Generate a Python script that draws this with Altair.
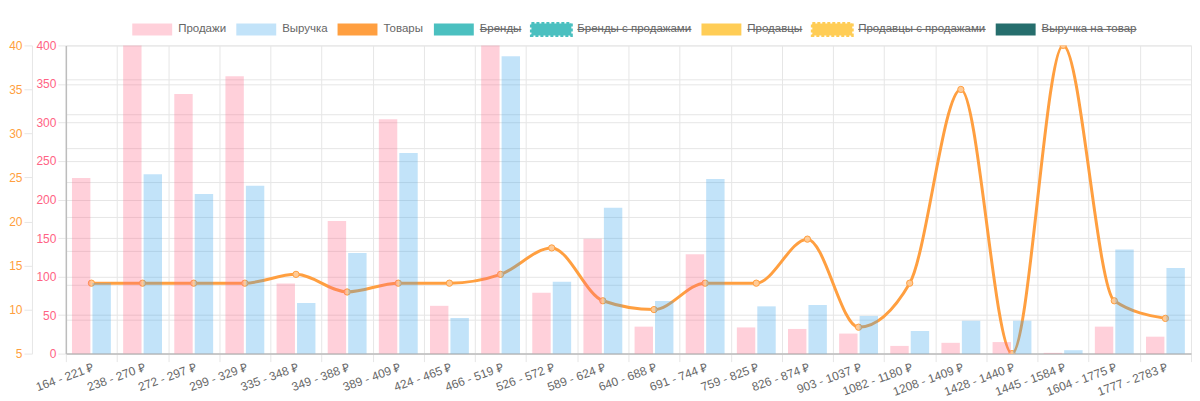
import altair as alt
import pandas as pd

categories = ["164 - 221 ₽", "238 - 270 ₽", "272 - 297 ₽", "299 - 329 ₽", "335 - 348 ₽",
              "349 - 388 ₽", "389 - 409 ₽", "424 - 465 ₽", "466 - 519 ₽", "526 - 572 ₽",
              "589 - 624 ₽", "640 - 688 ₽", "691 - 744 ₽", "759 - 825 ₽", "826 - 874 ₽",
              "903 - 1037 ₽", "1082 - 1180 ₽", "1208 - 1409 ₽", "1428 - 1440 ₽",
              "1445 - 1584 ₽", "1604 - 1775 ₽", "1777 - 2783 ₽"]
sales = [228, 400, 337, 360, 91, 172, 304, 62, 400, 79, 149, 35, 129, 34, 32, 26, 10, 14, 15, 1, 35, 22]
revenue = [103, 262, 233, 245, 74, 147, 293, 52, 434, 105, 213, 77, 255, 69, 71, 55, 33, 48, 48, 5, 152, 125]
goods = [13, 13, 13, 13, 14, 12, 13, 13, 14, 17, 11, 10, 13, 13, 18, 8, 13, 35, 5, 40, 11, 9]

legend_labels = ["Продажи", "Выручка", "Товары", "Бренды", "Бренды с продажами",
                 "Продавцы", "Продавцы с продажами", "Выручка на товар"]
legend_hidden = [False, False, False, True, True, True, True, True]
legend_dashed = [False, False, False, False, True, False, True, False]
legend_colors = ["rgba(255,99,132,0.3)", "rgba(54,162,235,0.3)", "#FF9F40", "#4BC0C0",
                 "#4BC0C0", "#FFCD56", "#FFCD56", "#266E6D"]

FONT = "Liberation Sans"
GRID = "#E6E6E6"
ZERO = "#BDBDBD"
W, H = 1128, 309

df = pd.DataFrame({"cat": categories, "sales": sales, "revenue": revenue, "goods": goods})

x_enc = alt.X("cat:N", sort=categories, title=None,
              scale=alt.Scale(paddingInner=0, paddingOuter=0),
              axis=alt.Axis(labelAngle=-20, tickBand="extent", grid=True, gridColor=GRID,
                            tickColor=GRID, tickSize=8, domainColor=ZERO, domainWidth=1.5,
                            labelColor="#666", labelFontSize=12, labelFont=FONT,
                            labelAlign="right", labelBaseline="top", labelPadding=0,
                            labelOverlap=False))

off_scale = alt.Scale(domain=["Продажи", "Выручка"], paddingInner=0.1, paddingOuter=0.3)

line = alt.Chart(df).mark_line(
    color="#FF9F40", strokeWidth=3, interpolate="monotone", clip=True,
    point=alt.OverlayMarkDef(shape="circle", size=40, fill="#FFCB97", stroke="#FF9F40",
                             strokeWidth=1, filled=True)
).encode(
    x=x_enc,
    y=alt.Y("goods:Q", title=None,
            scale=alt.Scale(domain=[5, 40], nice=False, zero=False),
            axis=alt.Axis(orient="left", offset=34, values=list(range(5, 41, 5)), grid=False,
                          domainColor=GRID, tickColor=GRID, tickSize=8, labelPadding=2,
                          labelColor="#FF9F40", labelFontSize=12, labelFont=FONT))
)

bars_sales = alt.Chart(df).transform_calculate(series="'Продажи'").mark_bar(
    color="rgba(255,99,132,0.3)"
).encode(
    x=x_enc,
    xOffset=alt.XOffset("series:N", scale=off_scale),
    y=alt.Y("sales:Q", title=None,
            scale=alt.Scale(domain=[0, 400], nice=False),
            axis=alt.Axis(orient="left", values=list(range(0, 401, 50)), grid=True,
                          gridColor=GRID, domainColor=ZERO, domainWidth=1.5, tickColor=GRID,
                          tickSize=8, labelPadding=2, labelColor="#FF6384",
                          labelFontSize=12, labelFont=FONT))
)

bars_rev = alt.Chart(df).transform_calculate(series="'Выручка'").mark_bar(
    color="rgba(54,162,235,0.3)"
).encode(
    x=x_enc,
    xOffset=alt.XOffset("series:N", scale=off_scale),
    y=alt.Y("revenue:Q", title=None,
            scale=alt.Scale(domain=[0, 450], nice=False),
            axis=alt.Axis(orient="right", values=list(range(0, 451, 50)), grid=True,
                          gridColor=GRID, labels=False, ticks=False, domain=False))
)

# custom legend (Chart.js style) above the plot
CW = {' ': 278, 'П': 722, 'В': 667, 'Т': 611, 'Б': 667, 'р': 556, 'о': 556, 'д': 583,
      'а': 556, 'ж': 669, 'и': 559, 'ы': 719, 'у': 500, 'ч': 521, 'к': 438, 'в': 531,
      'е': 556, 'н': 552, 'с': 500, 'п': 542, 'м': 688, 'ц': 573, 'т': 458}
LEG_SIZE = 11.5


def text_w(s):
    return sum(CW.get(c, 556) for c in s) * LEG_SIZE / 1000.0


item_w = [40 + 6 + text_w(lbl) for lbl in legend_labels]
total = sum(item_w) + 10 * (len(item_w) - 1)
cursor = 570 - total / 2
one = pd.DataFrame({"a": [0]})
legend_layers = []
for lbl, hid, dsh, col, iw in zip(legend_labels, legend_hidden, legend_dashed, legend_colors, item_w):
    if dsh:
        rect = alt.Chart(one).mark_rect(fill=col, stroke=col, strokeWidth=3, strokeDash=[3, 2])
    else:
        rect = alt.Chart(one).mark_rect(fill=col)
    legend_layers.append(rect.encode(x=alt.value(cursor), x2=alt.value(cursor + 40),
                                     y=alt.value(-22), y2=alt.value(-10)))
    tx = cursor + 46
    legend_layers.append(alt.Chart(one).mark_text(
        text=lbl, align="left", baseline="middle", fontSize=LEG_SIZE, font=FONT, color="#666"
    ).encode(x=alt.value(tx), y=alt.value(-16)))
    if hid:
        legend_layers.append(alt.Chart(one).mark_rule(color="#666", strokeWidth=1).encode(
            x=alt.value(tx), x2=alt.value(tx + text_w(lbl)), y=alt.value(-16)))
    cursor += iw + 10

chart = alt.layer(line, bars_sales, bars_rev, *legend_layers).resolve_scale(
    y="independent"
).properties(
    width=W, height=H, padding={"left": 0, "top": 13, "right": 0, "bottom": 0}
).configure_view(stroke=None)

chart.save("out.html", embed_options={"renderer": "svg", "actions": False})
